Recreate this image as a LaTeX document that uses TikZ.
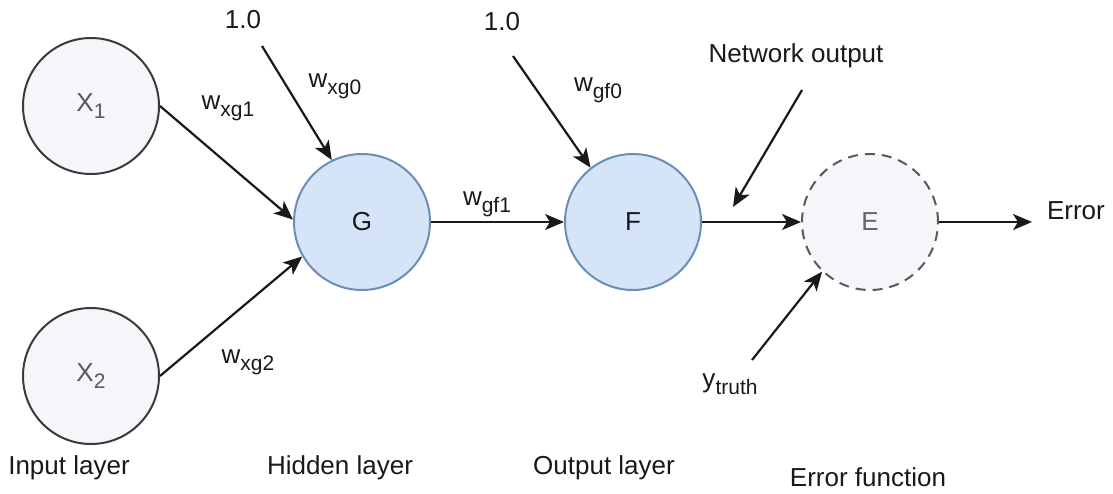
\documentclass[tikz,border=0pt]{standalone}
\usepackage{fontspec}
\setmainfont{Liberation Sans}
\usepackage{tikz}
\usetikzlibrary{arrows.meta, positioning}
\definecolor{plainfill}{HTML}{F5F5FA}
\definecolor{plaindraw}{HTML}{3A3A3A}
\definecolor{bluefill}{HTML}{D5E4F6}
\definecolor{bluedraw}{HTML}{6C8DB8}
\newcommand{\lowsub}[1]{\raisebox{-3.5pt}{\fontsize{10.5}{12}\selectfont #1}}

\begin{document}
\begin{tikzpicture}[x=0.5pt,y=-0.5pt,>={Stealth[length=9.5pt,width=8pt,inset=2.5pt]},
        every node/.style={font=\fontsize{13}{15}\selectfont,text=black!90},
        neuron/.style={circle,minimum size=68pt,inner sep=0pt,line width=1pt},
        input/.style={neuron,draw=plaindraw,fill=plainfill,text=black!65},
        hidden/.style={neuron,draw=bluedraw,fill=bluefill},
        errfn/.style={neuron,draw=black!65,fill=plainfill,dashed,dash pattern=on 5pt off 3.5pt,text=black!60},
        link/.style={->,line width=1.1pt,black!90}]

        \useasboundingbox (0,0) rectangle (1113,493);

        \node[input] (x_1) at (91,106) {X\lowsub{1}};
        \node[input] (x_2) at (91,376) {X\lowsub{2}};
        \node[hidden] (g) at (362,222) {G};
        \node[hidden] (f) at (633,222) {F};
        \node[errfn] (e) at (870,222) {E};

        \node (one_g) at (243,20) {1.0};
        \node (one_f) at (502,22) {1.0};
        \node (netout) at (796,56) {Network output};
        \node (ytruth) at (730,384) {y\lowsub{truth}};
        \node[anchor=west] (err) at (1040,211) {Error};

        \coordinate (bias_g) at (262,46);
        \coordinate (bias_f) at (513,56);
        \coordinate (out_from) at (802,90);
        \coordinate (out_to) at (733,207);
        \coordinate (truth_from) at (752,360);

        \draw[link] (x_1.east) -- (g.178);
        \draw[link] (x_2.east) -- (g.210);
        \draw[link] (bias_g) -- (g.116);
        \draw[link] (bias_f) -- (f.128);
        \draw[link,line width=0.8pt] (g.east) -- (f.west);
        \draw[link] (f.east) -- (e.west);
        \draw[link] (out_from) -- (out_to);
        \draw[link] (truth_from) -- (e.226);
        \draw[link] (e.east) -- ([xshift=-4pt]e.east -| err.west);

        \node at (228,108) {w\lowsub{xg1}};
        \node at (248,362) {w\lowsub{xg2}};
        \node at (335,86) {w\lowsub{xg0}};
        \node at (598,90) {w\lowsub{gf0}};
        \node at (487,204) {w\lowsub{gf1}};

        \node at (69,468) {Input layer};
        \node at (340,468) {Hidden layer};
        \node at (604,468) {Output layer};
        \node at (868,477) {Error function};
    \end{tikzpicture}
\end{document}
